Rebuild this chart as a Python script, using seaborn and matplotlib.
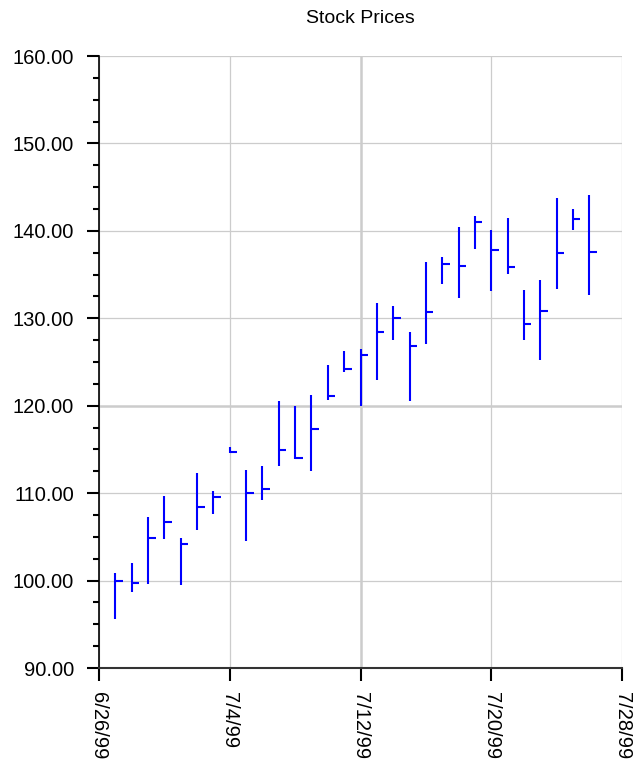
import matplotlib
matplotlib.use("Agg")
import matplotlib.pyplot as plt
from matplotlib.ticker import MultipleLocator
import seaborn as sns
import pandas as pd

dates = pd.date_range("1999-06-27", "1999-07-26", freq="D")
high = [100.84, 101.99, 107.30, 109.67, 104.89, 112.35, 110.21, 115.30, 112.60, 113.09,
        120.50, 119.92, 121.26, 124.62, 126.22, 126.53, 131.80, 131.42, 128.43, 136.48,
        137.05, 140.42, 141.69, 140.10, 141.50, 133.27, 134.42, 143.77, 142.50, 144.12]
low = [95.64, 98.66, 99.62, 104.70, 99.46, 105.74, 107.61, 114.60, 104.47, 109.27,
       113.13, 113.85, 112.48, 120.69, 123.89, 120.00, 122.99, 127.47, 120.57, 127.05,
       133.91, 132.30, 137.97, 133.11, 135.08, 127.50, 125.23, 133.31, 140.12, 132.69]
close = [100.00, 99.77, 104.86, 106.65, 104.24, 108.37, 109.56, 114.68, 110.00, 110.42,
         114.92, 114.00, 117.37, 121.11, 124.24, 125.85, 128.39, 130.00, 126.78, 130.69,
         136.25, 135.94, 140.96, 137.83, 135.85, 129.31, 130.81, 137.42, 141.38, 137.62]
tick_dates = pd.to_datetime(["1999-06-26", "1999-07-04", "1999-07-12", "1999-07-20", "1999-07-28"])
tick_labels = ["6/26/99", "7/4/99", "7/12/99", "7/20/99", "7/28/99"]
y_ticks = [90, 100, 110, 120, 130, 140, 150, 160]
y_labels = ["90.00", "100.00", "110.00", "120.00", "130.00", "140.00", "150.00", "160.00"]

df = pd.DataFrame({"date": dates, "high": high, "low": low, "close": close})

sns.set_style("white")
plt.rcParams["font.family"] = ["Liberation Sans", "DejaVu Sans"]
plt.rcParams["text.color"] = "black"
plt.rcParams["xtick.color"] = "black"
plt.rcParams["ytick.color"] = "black"

fig = plt.figure(figsize=(6.33, 7.62), dpi=100)
ax = fig.add_axes([99 / 633, 94 / 762, 523 / 633, 612 / 762])

blue = "#0000ff"
ax.vlines(df["date"], df["low"], df["high"], color=blue, linewidth=1.5)
ax.hlines(df["close"], df["date"], df["date"] + pd.Timedelta(hours=11),
          color=blue, linewidth=1.5)

ax.set_xlim(tick_dates[0], tick_dates[-1])
ax.set_ylim(y_ticks[0], y_ticks[-1])
ax.set_xticks(tick_dates)
ax.set_xticklabels(tick_labels)
ax.set_yticks(y_ticks)
ax.set_yticklabels(y_labels)
ax.yaxis.set_minor_locator(MultipleLocator(2.5))

ax.grid(True, which="major", color="#cccccc", linewidth=0.9)
ax.set_axisbelow(True)
# the 7/12 and 120 grid lines are drawn heavier in the original
ax.xaxis.get_major_ticks()[2].gridline.set_linewidth(1.8)
ax.yaxis.get_major_ticks()[3].gridline.set_linewidth(1.8)

sns.despine(ax=ax, top=True, right=True)
ax.spines["left"].set_color("black")
ax.spines["left"].set_linewidth(1.2)
ax.spines["bottom"].set_color("#333333")
ax.spines["bottom"].set_linewidth(1.5)

ax.tick_params(axis="y", which="major", direction="out", length=9, width=1.5,
               colors="black", labelsize=14.5, pad=9, left=True)
ax.tick_params(axis="y", which="minor", direction="out", length=4.5, width=1.5,
               colors="black", left=True)
ax.tick_params(axis="x", which="major", direction="out", length=9.5, width=1.5,
               colors="black", labelsize=14.5, pad=8, labelrotation=-90, bottom=True)

ax.set_title("Stock Prices", fontsize=14, pad=24, color="black")
ax.set_xlabel("")
ax.set_ylabel("")

fig.savefig("out.png", dpi=100)
